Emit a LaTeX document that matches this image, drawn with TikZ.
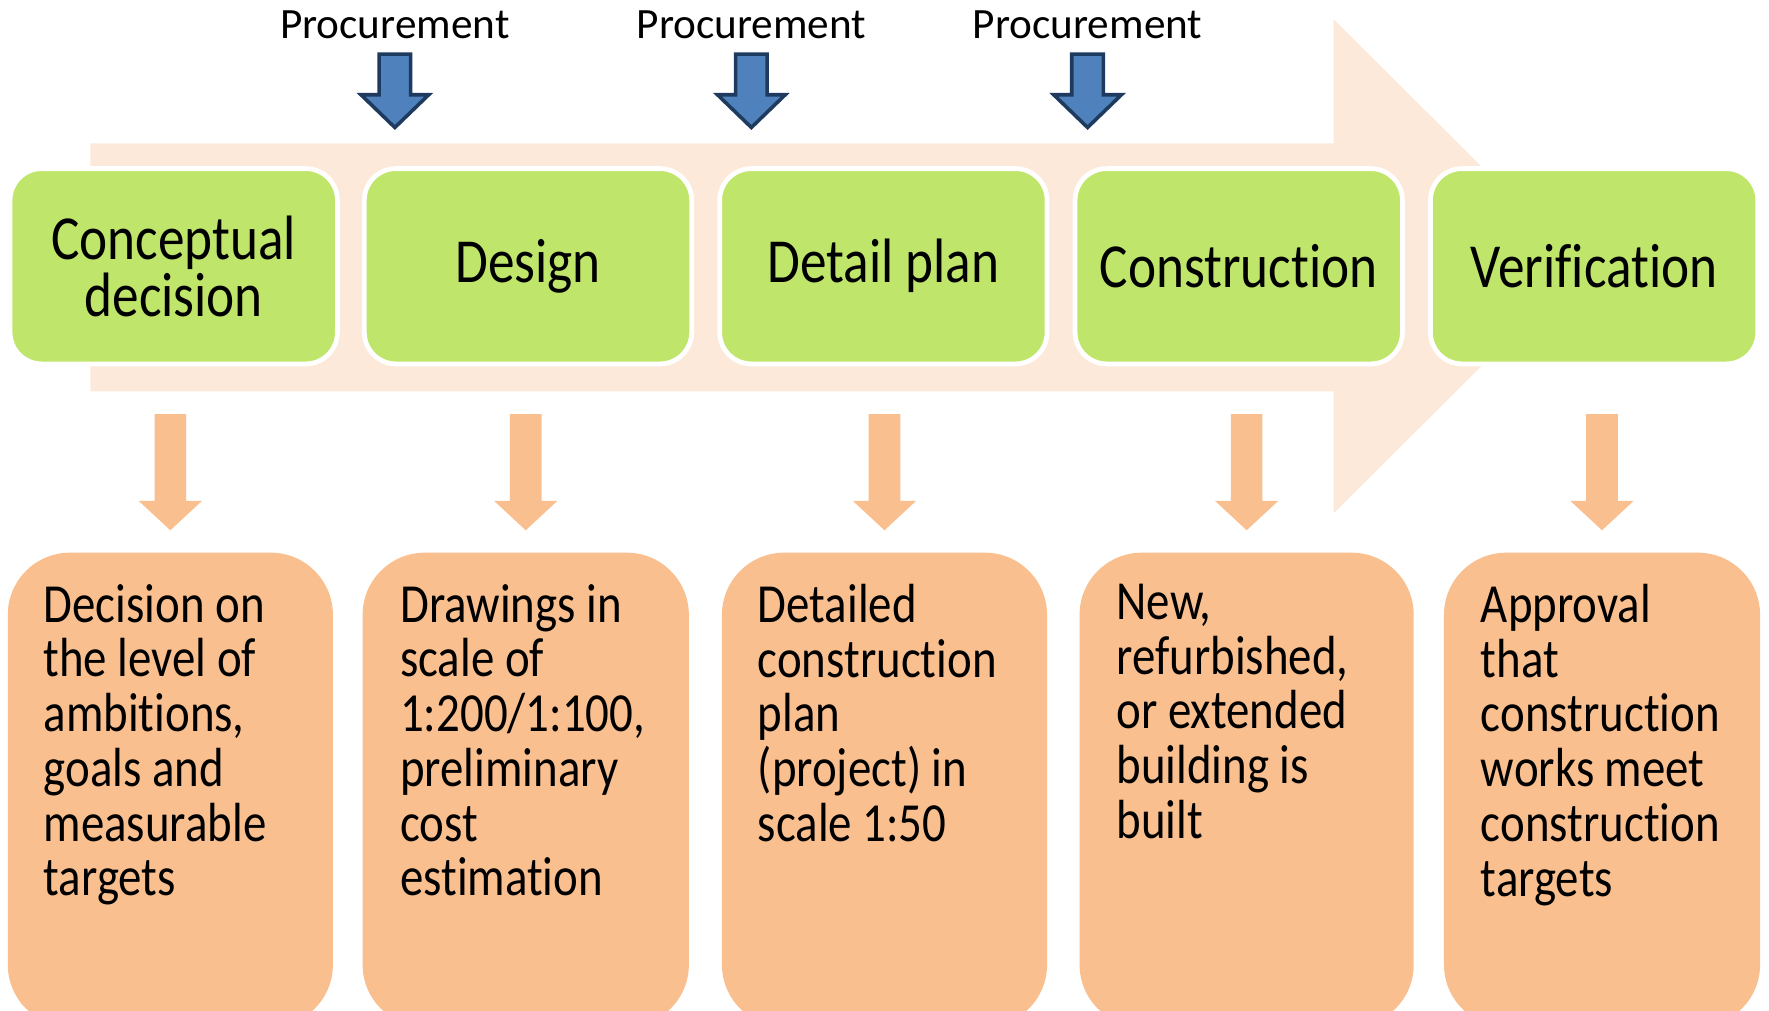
\documentclass[tikz,border=0pt]{standalone}
\usepackage{fontspec}
\setmainfont[Ligatures=NoCommon]{Carlito}
\newfontfamily\stagefont[FakeStretch=0.85, Ligatures=NoCommon]{Carlito}
\newcommand\stagesize{\stagefont\fontsize{15.8}{12.8}\selectfont}
\newcommand\outsize{\stagefont\fontsize{13.9}{13.8}\selectfont}

\definecolor{bandpeach}{HTML}{FDE9D9}
\definecolor{stagegreen}{HTML}{BFE56A}
\definecolor{outorange}{HTML}{F9BF8F}
\definecolor{procblue}{HTML}{4F81BD}
\definecolor{procnavy}{HTML}{1F3A5F}

\begin{document}
\begin{tikzpicture}[x=0.01cm, y=-0.01cm,
    stage/.style={draw=white, line width=1.2pt, fill=stagegreen,
      rounded corners=0.28cm, minimum width=2.9cm, minimum height=1.73cm,
      inner sep=0pt, align=flush center, font=\stagesize},
    outcome/.style={fill=outorange, rounded corners=0.55cm,
      minimum width=2.9cm, minimum height=4.2cm, inner sep=0pt},
    outtext/.style={anchor=north west, inner sep=0pt, text width=2.6cm,
      align=flush left, font=\outsize},
    proclabel/.style={inner sep=0pt, font=\fontsize{10.9}{13}\selectfont},
    procarrow/.style={fill=procblue, draw=procnavy, line width=0.9pt},
    outarrow/.style={fill=outorange}]
  \clip (0,0) rectangle (1568,896);

  % background arrow
  \fill[bandpeach] (80,127) -- (1182,127) -- (1182,17) -- (1402,236)
    -- (1182,455) -- (1182,347) -- (80,347) -- cycle;

  % stages
  \foreach \n/\cx/\txt in {1/154/{Conceptual\\decision}, 2/468/Design,
      3/783/{Detail plan}, 4/1098/Construction, 5/1413/Verification}
    \node[stage] (s\n) at (\cx,236) {\txt};

  % procurement
  \foreach \n/\cx in {1/350, 2/666, 3/964} {
    \node[proclabel] (p\n) at (\cx,22) {Procurement};
    \draw[procarrow] (\cx-14,48) -- (\cx+14,48) -- (\cx+14,84) -- (\cx+30,84)
      -- (\cx,113) -- (\cx-30,84) -- (\cx-14,84) -- cycle;
  }

  % outcomes
  \foreach \n/\bx/\bw/\tx/\txt in {
      1/151/2.88/38/{Decision on\\the level of\\ambitions,\\goals and\\measurable\\targets},
      2/466/2.89/354/{Drawings in\\scale of\\1:200/1:100,\\preliminary\\cost\\estimation},
      3/784/2.88/671/{Detailed\\construction\\plan\\(project) in\\scale 1:50},
      4/1105/2.96/989/{New,\\refurbished,\\or extended\\building is\\built},
      5/1420/2.80/1312/{Approval\\that\\construction\\works meet\\construction\\targets}} {
    \fill[outarrow] (\bx-14,367) -- (\bx+14,367) -- (\bx+14,444) -- (\bx+28,444)
      -- (\bx,470) -- (\bx-28,444) -- (\bx-14,444) -- cycle;
    \node[outcome, minimum width=\bw cm] (o\n) at (\bx,700) {};
    \node[outtext] (t\n) at (\tx,517) {\txt};
  }
\end{tikzpicture}
\end{document}
